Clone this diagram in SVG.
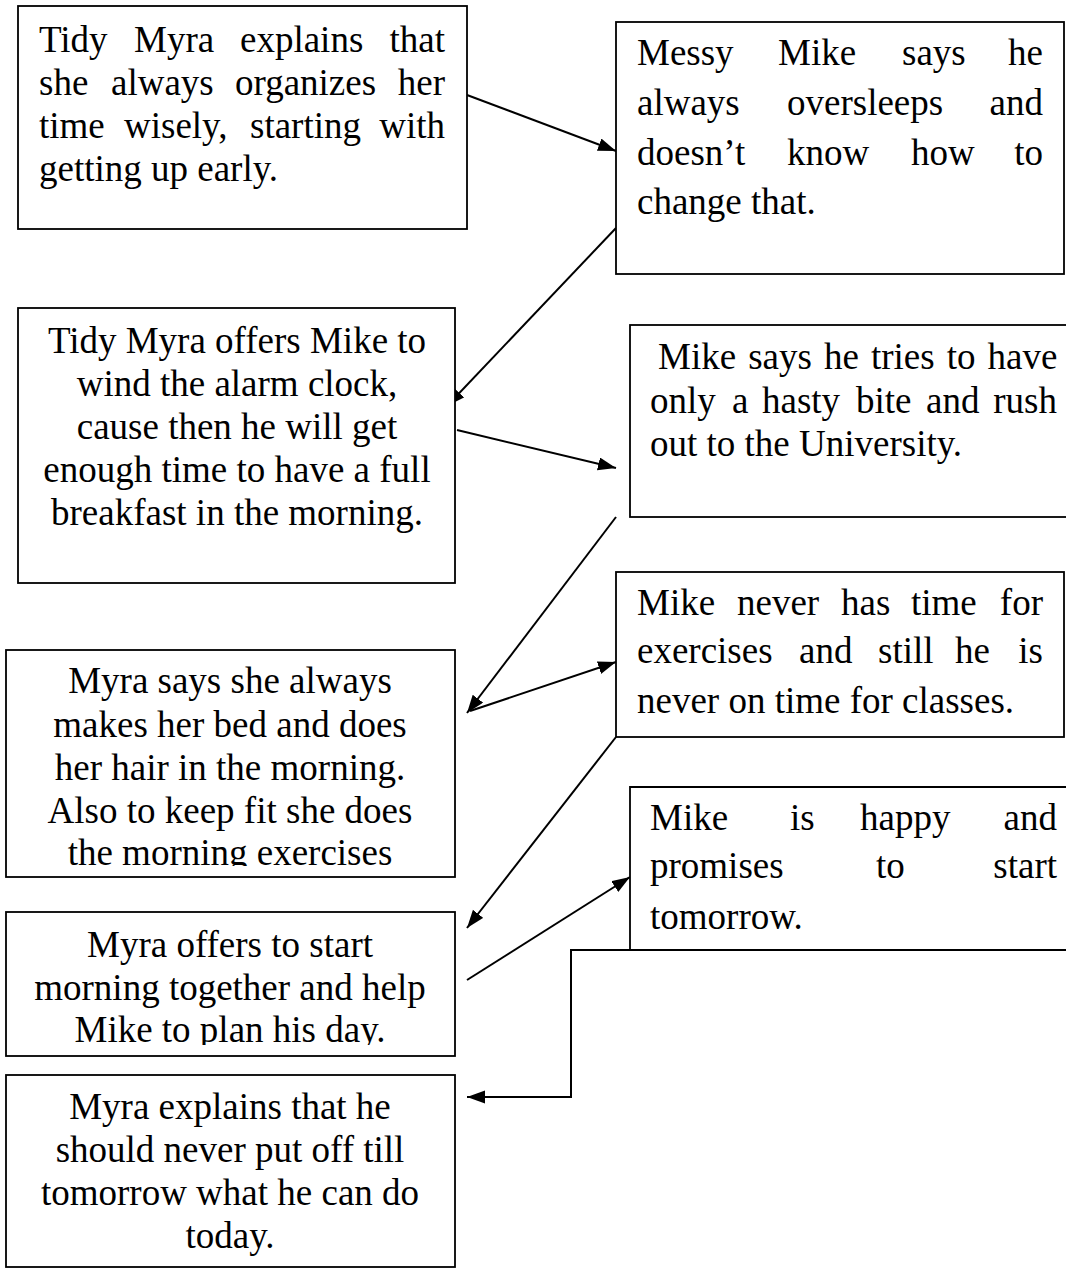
<svg xmlns="http://www.w3.org/2000/svg" width="1066" height="1269" viewBox="0 0 1066 1269">
<style>
.box{fill:#fff;stroke:#000;stroke-width:1.8}
.t{font-family:"Liberation Serif","Times New Roman",serif;font-size:37px;fill:#000}
.c{text-anchor:middle}
.e{text-anchor:end}
.con{fill:none;stroke:#000;stroke-width:2}
</style>
<defs>
<marker id="ah" markerUnits="userSpaceOnUse" markerWidth="19" markerHeight="14" refX="18" refY="6.5" orient="auto">
<path d="M0,0 L18,6.5 L0,13 z" fill="#000"/>
</marker>
<clipPath id="clip6"><rect x="0" y="640" width="470" height="226"/></clipPath>
<clipPath id="clip7"><rect x="0" y="905" width="470" height="140"/></clipPath>
</defs>
<rect width="1066" height="1269" fill="#fff"/>
<g id="connectors">
<line class="con" x1="467" y1="95" x2="616" y2="151" marker-end="url(#ah)"/>
<line class="con" x1="616" y1="228" x2="447" y2="406" marker-end="url(#ah)"/>
<line class="con" x1="457" y1="430" x2="616" y2="468" marker-end="url(#ah)"/>
<line class="con" x1="616" y1="517" x2="467" y2="713" marker-end="url(#ah)"/>
<line class="con" x1="470" y1="711" x2="616" y2="662" marker-end="url(#ah)"/>
<line class="con" x1="616" y1="737" x2="467" y2="928" marker-end="url(#ah)"/>
<line class="con" x1="467" y1="980" x2="630" y2="877" marker-end="url(#ah)"/>
<polyline class="con" points="676,950 571,950 571,1097 467,1097" marker-end="url(#ah)"/>
</g>
<g id="n1">
<rect class="box" x="18" y="6" width="449" height="223"/>
<text class="t" y="52"><tspan x="39">Tidy</tspan> <tspan x="134">Myra</tspan> <tspan x="240">explains</tspan> <tspan x="445" class="e">that</tspan></text>
<text class="t" y="95"><tspan x="39">she</tspan> <tspan x="111">always</tspan> <tspan x="235">organizes</tspan> <tspan x="445" class="e">her</tspan></text>
<text class="t" y="138"><tspan x="39">time</tspan> <tspan x="124">wisely,</tspan> <tspan x="250">starting</tspan> <tspan x="445" class="e">with</tspan></text>
<text class="t" x="39" y="181">getting up early.</text>
</g>
<g id="n2">
<rect class="box" x="616" y="22" width="448" height="252"/>
<text class="t" y="65"><tspan x="637">Messy</tspan> <tspan x="778">Mike</tspan> <tspan x="902">says</tspan> <tspan x="1043" class="e">he</tspan></text>
<text class="t" y="115"><tspan x="637">always</tspan> <tspan x="787">oversleeps</tspan> <tspan x="1043" class="e">and</tspan></text>
<text class="t" y="165"><tspan x="637">doesn’t</tspan> <tspan x="787">know</tspan> <tspan x="911">how</tspan> <tspan x="1043" class="e">to</tspan></text>
<text class="t" x="637" y="214">change that.</text>
</g>
<g id="n3">
<rect class="box" x="18" y="308" width="437" height="275"/>
<text class="t c" x="237" y="353">Tidy Myra offers Mike to</text>
<text class="t c" x="237" y="396">wind the alarm clock,</text>
<text class="t c" x="237" y="439">cause then he will get</text>
<text class="t c" x="237" y="482">enough time to have a full</text>
<text class="t c" x="237" y="525">breakfast in the morning.</text>
</g>
<g id="n4">
<rect class="box" x="630" y="325" width="450" height="192"/>
<text class="t" x="658" y="369" word-spacing="2.8">Mike says he tries to have</text>
<text class="t" y="413"><tspan x="650">only</tspan> <tspan x="732">a</tspan> <tspan x="762">hasty</tspan> <tspan x="856">bite</tspan> <tspan x="926">and</tspan> <tspan x="1057" class="e">rush</tspan></text>
<text class="t" x="650" y="456">out to the University.</text>
</g>
<g id="n5">
<rect class="box" x="616" y="572" width="448" height="165"/>
<text class="t" y="615"><tspan x="637">Mike</tspan> <tspan x="737">never</tspan> <tspan x="841">has</tspan> <tspan x="911">time</tspan> <tspan x="1043" class="e">for</tspan></text>
<text class="t" y="663"><tspan x="637">exercises</tspan> <tspan x="799">and</tspan> <tspan x="878">still</tspan> <tspan x="955">he</tspan> <tspan x="1043" class="e">is</tspan></text>
<text class="t" x="637" y="713">never on time for classes.</text>
</g>
<g id="n6">
<rect class="box" x="6" y="650" width="449" height="227"/>
<g clip-path="url(#clip6)">
<text class="t c" x="230" y="693">Myra says she always</text>
<text class="t c" x="230" y="737">makes her bed and does</text>
<text class="t c" x="230" y="780">her hair in the morning.</text>
<text class="t c" x="230" y="823">Also to keep fit she does</text>
<text class="t c" x="230" y="865">the morning exercises</text>
</g>
</g>
<g id="n7">
<rect class="box" x="6" y="912" width="449" height="144"/>
<g clip-path="url(#clip7)">
<text class="t c" x="230" y="957">Myra offers to start</text>
<text class="t c" x="230" y="1000">morning together and help</text>
<text class="t c" x="230" y="1042">Mike to plan his day.</text>
</g>
</g>
<g id="n8">
<rect class="box" x="6" y="1075" width="449" height="192"/>
<text class="t c" x="230" y="1119">Myra explains that he</text>
<text class="t c" x="230" y="1162">should never put off till</text>
<text class="t c" x="230" y="1205">tomorrow what he can do</text>
<text class="t c" x="230" y="1248">today.</text>
</g>
<g id="n9">
<path class="box" d="M1080,787 L630,787 L630,950 L1080,950" fill="#fff"/>
<text class="t" y="830"><tspan x="650">Mike</tspan> <tspan x="790">is</tspan> <tspan x="860">happy</tspan> <tspan x="1057" class="e">and</tspan></text>
<text class="t" y="878"><tspan x="650">promises</tspan> <tspan x="876">to</tspan> <tspan x="1057" class="e">start</tspan></text>
<text class="t" x="650" y="929">tomorrow.</text>
</g>
</svg>
